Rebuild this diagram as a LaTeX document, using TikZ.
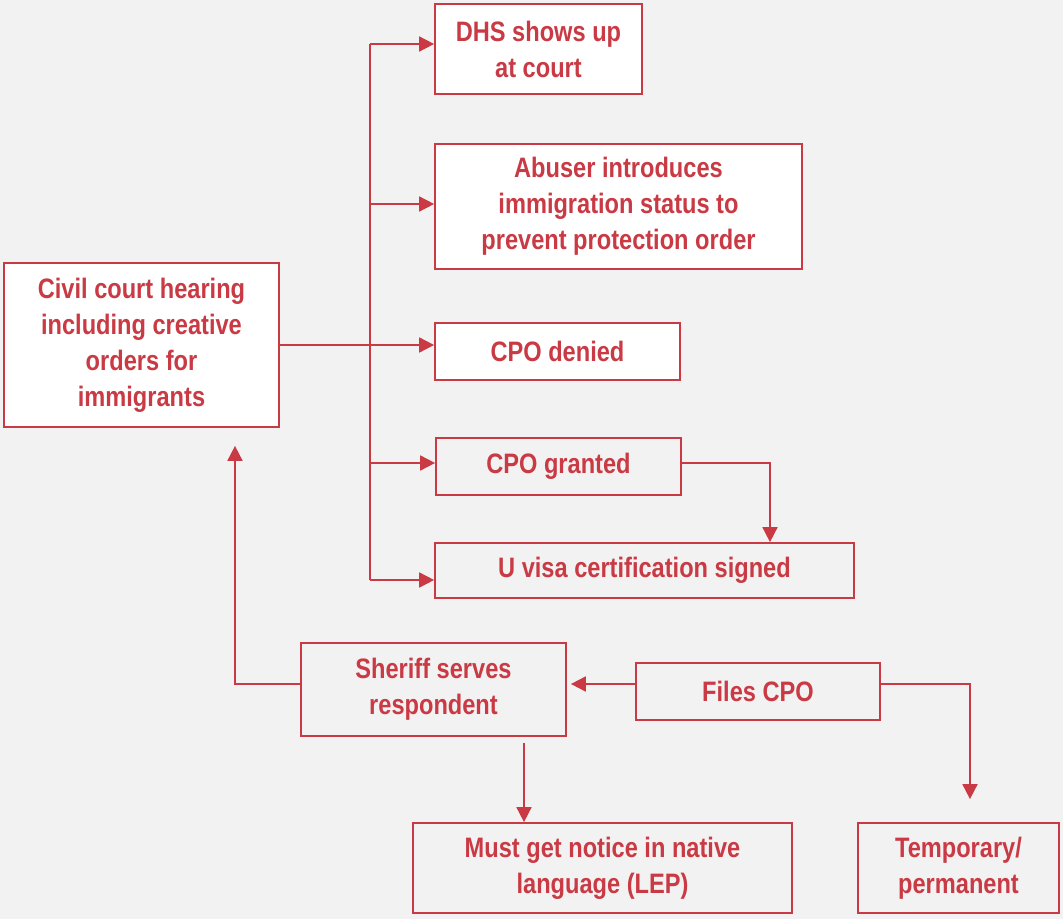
\documentclass[tikz,border=0pt]{standalone}
\usepackage{fontspec}
\setmainfont{Liberation Sans}[FakeStretch=0.84]
\usepackage{tikz}
\usetikzlibrary{arrows.meta}
\definecolor{flred}{HTML}{C93A44}
\definecolor{flback}{HTML}{F2F2F2}

\begin{document}
\begin{tikzpicture}[x=0.02cm, y=-0.02cm,
  box/.style={draw=flred, line width=1pt, fill=white, text=flred,
    font=\fontsize{16}{20.5}\selectfont\bfseries, align=center, inner sep=0pt},
  greybox/.style={box, fill=flback},
  link/.style={draw=flred, line width=1pt},
  arr/.style={link, -{Triangle[length=0.3cm, width=0.3cm]}}]
  % page and background
  \fill[flback] (0,0) rectangle (1063,919);
  \useasboundingbox (0,0) rectangle (1063,919);
  % boxes
  \node[box, minimum width=4.14cm, minimum height=1.80cm] (dhs) at (538.5,49) {DHS shows up\\at court};
  \node[box, minimum width=7.34cm, minimum height=2.50cm] (abuser) at (618.5,206.5) {Abuser introduces\\immigration status to\\prevent protection order};
  \node[box, minimum width=5.50cm, minimum height=3.28cm] (civil) at (141.5,345) {Civil court hearing\\including creative\\orders for\\immigrants};
  \node[box, minimum width=4.90cm, minimum height=1.14cm] (denied) at (557.5,351.5) {CPO denied};
  \node[greybox, minimum width=4.90cm, minimum height=1.14cm] (granted) at (558.5,466.5) {CPO granted};
  \node[greybox, minimum width=8.38cm, minimum height=1.10cm] (uvisa) at (644.5,570.5) {U visa certification signed};
  \node[greybox, minimum width=5.30cm, minimum height=1.86cm] (sheriff) at (433.5,689.5) {Sheriff serves\\respondent};
  \node[greybox, minimum width=4.88cm, minimum height=1.14cm] (files) at (758,691.5) {Files CPO};
  \node[greybox, minimum width=7.58cm, minimum height=1.80cm] (notice) at (602.5,868) {Must get notice in native\\language (LEP)};
  \node[greybox, minimum width=4.02cm, minimum height=1.80cm] (term) at (958.5,868) {Temporary/\\permanent};
  % trunk out of the hearing
  \coordinate (tdhs) at (370,44);
  \coordinate (tabuser) at (370,204);
  \coordinate (tgranted) at (370,463);
  \coordinate (tuvisa) at (370,580);
  \draw[link] (tdhs) -- (tuvisa);
  \draw[arr] (civil.east) -- (civil.east -| denied.west);
  \draw[arr] (tdhs) -- (tdhs -| dhs.west);
  \draw[arr] (tabuser) -- (tabuser -| abuser.west);
  \draw[arr] (tgranted) -- (tgranted -| granted.west);
  \draw[arr] (tuvisa) -- (tuvisa -| uvisa.west);
  % granted to certification
  \coordinate (gturn) at (770,463);
  \draw[arr] (granted.east |- gturn) -- (gturn) -- (gturn |- uvisa.north);
  % filing and service
  \coordinate (fleft) at (636,684);
  \coordinate (fturn) at (970,684);
  \draw[arr] (fleft) -- ([xshift=0.08cm]fleft -| sheriff.east);
  \draw[arr, shorten >=0.46cm] (files.east |- fturn) -- (fturn) -- (fturn |- term.north);
  \coordinate (sdown) at (524,743);
  \draw[arr] (sdown) -- (sdown |- notice.north);
  \coordinate (sturn) at (235,684);
  \draw[arr, shorten >=0.36cm] (sheriff.west |- sturn) -- (sturn) -- (sturn |- civil.south);
\end{tikzpicture}
\end{document}
